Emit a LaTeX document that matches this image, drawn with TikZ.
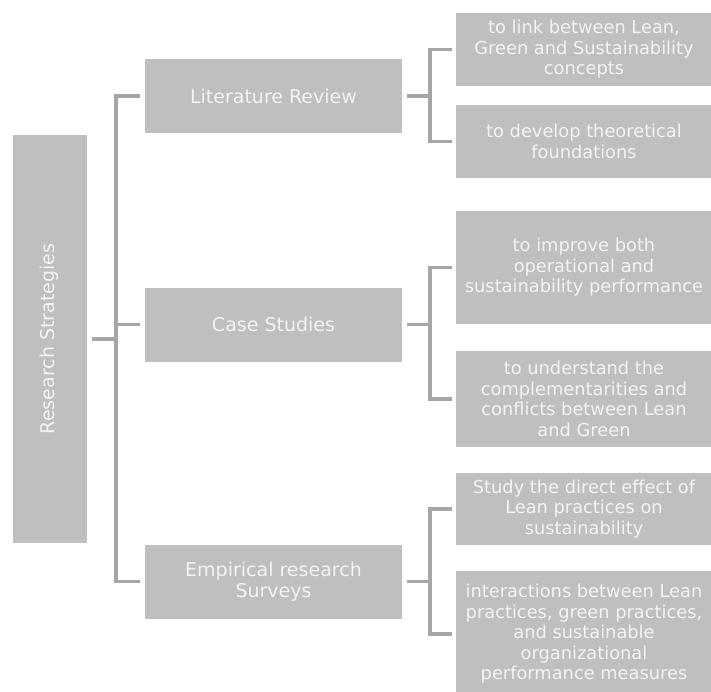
\documentclass[tikz,border=0pt]{standalone}
\usepackage{fontspec}
\setmainfont{DejaVu Sans}
\usepackage{xcolor}
\usepackage{tikz}
\usetikzlibrary{positioning}
\definecolor{boxgray}{HTML}{BFBFBF}
\definecolor{linegray}{HTML}{A6A6A6}
\definecolor{textgray}{HTML}{F3F3F3}
\tikzstyle{base}    = [rectangle, fill=boxgray, text=textgray, inner sep=0pt, align=center, font=\fontsize{19}{20.5}\selectfont]
\tikzstyle{mainbox} = [base, minimum width=74.5pt, minimum height=408pt]
\tikzstyle{strat}   = [base, minimum width=257pt, minimum height=74pt]
\tikzstyle{aim}     = [base, minimum width=256pt, font=\fontsize{17.8}{20.5}\selectfont]
\tikzstyle{link}    = [draw=linegray, line width=3.5pt]

\begin{document}
\begin{tikzpicture}[x=1pt, y=-1pt]
    \useasboundingbox (0,0) rectangle (711,691);

    \node (rs)  [mainbox] at (49.75,339)  {\rotatebox{90}{Research Strategies}};
    \node (lit) [strat]   at (273.5,96)   {Literature Review};
    \node (cs)  [strat]   at (273.5,324.5) {Case Studies};
    \node (emp) [strat]   at (273.5,581.5) {Empirical research\\Surveys};

    \node (l1) [aim, minimum height=73pt]  at (584,49.5)  {to link between Lean,\\Green and Sustainability\\concepts};
    \node (l2) [aim, minimum height=73pt]  at (584,141.5) {to develop theoretical\\foundations};
    \node (c1) [aim, minimum height=113pt] at (584,267.5) {to improve both\\operational and\\sustainability performance};
    \node (c2) [aim, minimum height=96pt]  at (584,399)   {to understand the\\complementarities and\\conflicts between Lean\\and Green};
    \node (e1) [aim, minimum height=72pt]  at (584,509)   {Study the direct effect of\\Lean practices on\\sustainability};
    \node (e2) [aim, minimum height=126pt] at (584,634)   {interactions between Lean\\practices, green practices,\\and sustainable\\organizational\\performance measures};

    \coordinate (spine) at (116,339);
    \coordinate (lj) at (430,96);
    \coordinate (cj) at (430,324.5);
    \coordinate (ej) at (430,581.5);

    \draw [link] ([xshift=5pt]rs.east) -- (spine);
    \draw [link] ([xshift=-5pt]lit.west) -| (spine) |- ([xshift=-5pt]emp.west);
    \draw [link] ([xshift=-5pt]cs.west) -- (cs.west -| spine);

    \draw [link] ([xshift=5pt]lit.east) -- (lj);
    \draw [link] ([xshift=-4pt]l1.west) -| (lj) |- ([xshift=-4pt]l2.west);
    \draw [link] ([xshift=5pt]cs.east) -- (cj);
    \draw [link] ([xshift=-4pt]c1.west) -| (cj) |- ([xshift=-4pt]c2.west);
    \draw [link] ([xshift=5pt]emp.east) -- (ej);
    \draw [link] ([xshift=-4pt]e1.west) -| (ej) |- ([xshift=-4pt]e2.west);
\end{tikzpicture}
\end{document}
